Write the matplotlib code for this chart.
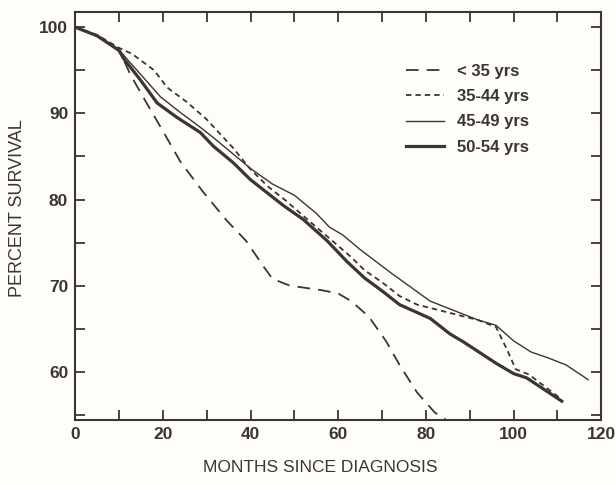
import matplotlib
matplotlib.use('agg')
import matplotlib.pyplot as plt
from matplotlib.ticker import MultipleLocator

plt.rcParams['font.family'] = ['Liberation Sans', 'DejaVu Sans']

INK = '#3a3631'

# survival curves (months, percent)
lt35_months = [0, 5, 10, 12.5, 15.5, 19.5, 24, 29, 34.5, 39, 43, 45, 49, 56, 60, 63, 67, 71, 74, 78, 82, 86.5]
lt35_pct = [100, 99.0, 97.4, 94.6, 91.9, 88.4, 84.4, 81.0, 77.6, 75.2, 72.2, 70.8, 70.0, 69.5, 69.1, 68.2,
            66.4, 63.5, 60.8, 57.6, 55.3, 53.8]

a3544_months = [0, 5, 10, 13, 18, 21, 25.5, 30, 36, 40, 44, 48, 55, 58, 63, 66, 70, 74, 78, 85, 92, 96,
                98.5, 100.5, 103.5, 111]
a3544_pct = [100, 99.1, 97.6, 96.9, 95.0, 93.0, 91.3, 89.3, 86.0, 83.5, 81.5, 79.9, 76.8, 75.5, 73.3, 71.8,
             70.4, 68.8, 67.8, 66.9, 66.0, 65.2, 62.6, 60.3, 59.7, 56.8]

a4549_months = [0, 5, 10, 12, 15.5, 19.5, 24, 28.5, 31.5, 36, 40, 45, 50, 55, 58, 61, 65, 72, 81, 88, 92, 96,
                100, 104, 108, 112, 117]
a4549_pct = [100, 99.0, 97.4, 96.2, 94.2, 91.9, 90.1, 88.4, 87.2, 85.3, 83.6, 81.8, 80.5, 78.4, 76.8, 75.9,
             74.2, 71.5, 68.2, 66.8, 66.0, 65.4, 63.6, 62.3, 61.6, 60.8, 59.1]

a5054_months = [0, 5, 10, 11, 15, 18.7, 23.3, 28.5, 31.5, 36, 40, 44, 47.5, 52, 57.5, 62, 66, 70, 74, 81,
                85.5, 88.5, 96, 100, 103, 111]
a5054_pct = [100, 99.0, 97.3, 96.4, 93.8, 91.2, 89.5, 87.8, 86.2, 84.3, 82.3, 80.7, 79.3, 77.7, 75.2, 72.8,
             70.9, 69.4, 67.8, 66.2, 64.4, 63.5, 61.0, 59.8, 59.3, 56.6]

labels = ['< 35 yrs', '35-44 yrs', '45-49 yrs', '50-54 yrs']

fig = plt.figure(figsize=(6.16, 4.84), dpi=100)
fig.patch.set_facecolor('#fefdfa')
ax = fig.add_axes([0.122, 0.132, 0.854, 0.843])
ax.set_facecolor('#fefdfa')

common = dict(color=INK, solid_joinstyle='round', dash_joinstyle='round')
ax.plot(lt35_months, lt35_pct, lw=1.3, dashes=(7, 4.5), label=labels[0], **common)
ax.plot(a3544_months, a3544_pct, lw=1.3, dashes=(3, 2.2), label=labels[1], **common)
ax.plot(a4549_months, a4549_pct, lw=1.0, label=labels[2], **common)
ax.plot(a5054_months, a5054_pct, lw=2.3, label=labels[3], **common)

ax.set_xlim(0, 120)
ax.set_ylim(54.4, 101.75)
ax.set_xticks(range(0, 121, 20))
ax.xaxis.set_minor_locator(MultipleLocator(10))
ax.set_yticks(range(60, 101, 10))
ax.yaxis.set_minor_locator(MultipleLocator(5))
ax.tick_params(which='both', direction='in', top=True, right=True, color=INK, width=1.3,
               labelcolor=INK, labelsize=12.5)
ax.tick_params(which='major', length=7.5, pad=5)
ax.tick_params(which='minor', length=7.5)
for lab in ax.get_xticklabels() + ax.get_yticklabels():
    lab.set_fontweight('bold')
for s in ax.spines.values():
    s.set_color(INK)
    s.set_linewidth(1.5)

ax.set_xlabel('MONTHS SINCE DIAGNOSIS', fontsize=12.5, color=INK)
ax.set_ylabel('PERCENT SURVIVAL', fontsize=13, color=INK)
ax.xaxis.set_label_coords(0.466, -0.098)
ax.yaxis.set_label_coords(-0.094, 0.52)

leg = ax.legend(loc='upper left', bbox_to_anchor=(0.6, 0.91), frameon=False, handlelength=2.3,
                labelspacing=0.62, handletextpad=0.8, prop={'size': 12, 'weight': 'bold'})
for t in leg.get_texts():
    t.set_color(INK)

fig.savefig('out.png', dpi=100, facecolor=fig.get_facecolor())
